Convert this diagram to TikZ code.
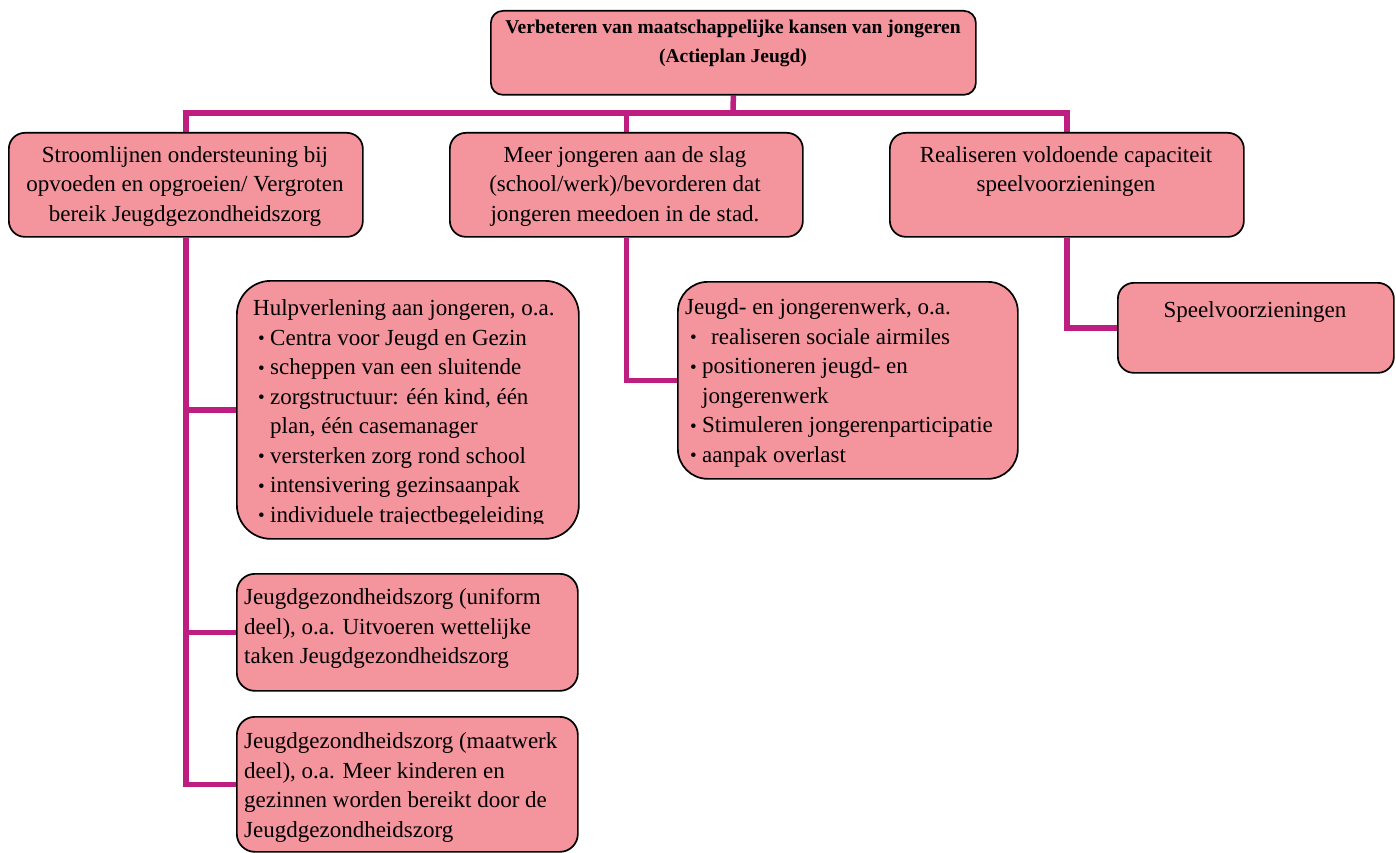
\documentclass[tikz,border=0pt]{standalone}
\usepackage{fontspec}
\setmainfont{Liberation Serif}
\definecolor{boxfill}{RGB}{244,148,157}
\definecolor{conncol}{RGB}{190,30,127}
\pgfdeclarelayer{bg}
\pgfsetlayers{bg,main}
\newcommand{\bul}{\makebox[12pt][l]{\raisebox{0.5pt}{\fontsize{19}{19}\selectfont\textbullet}}}
\begin{document}
\begin{tikzpicture}[x=1pt,y=-1pt,
  box/.style={draw=black, line width=1.7pt, fill=boxfill, rounded corners=#1, inner sep=0pt, anchor=north west},
  box/.default=15pt,
  txt/.style={inner sep=0pt, font=\fontsize{23}{29.5}\selectfont, align=left},
  ctxt/.style={inner sep=0pt, font=\fontsize{23}{29.5}\selectfont, align=center},
  ttxt/.style={inner sep=0pt, font=\fontsize{19.5}{29}\selectfont\bfseries, align=center},
  conn/.style={draw=conncol, line width=5.5pt}]
\useasboundingbox (0,0) rectangle (1396,853);

% boxes
\node[box=12pt, minimum width=485pt, minimum height=84pt] (T) at (490,10) {};
\node[box=16pt, minimum width=354pt, minimum height=104pt] (A) at (8,132) {};
\node[box=16pt, minimum width=353pt, minimum height=104pt] (B) at (449,132) {};
\node[box=16pt, minimum width=354pt, minimum height=104pt] (C) at (889,132) {};
\node[box=34pt, minimum width=342pt, minimum height=258pt] (H) at (236,280) {};
\node[box=30pt, minimum width=340pt, minimum height=197pt] (J) at (677,281) {};
\node[box=16pt, minimum width=276pt, minimum height=90pt] (S) at (1117,282) {};
\node[box=18pt, minimum width=341pt, minimum height=117pt] (U) at (236,573) {};
\node[box=18pt, minimum width=341pt, minimum height=135pt] (M) at (236,716) {};

% connectors
\coordinate (bar) at (733,113);
\begin{pgfonlayer}{bg}
\draw[conn] (T.south) -- (bar);
\draw[conn] (A.north) |- (bar) -| (C.north);
\draw[conn] (B.north) -- (B.north |- bar);
\draw[conn] (A.south) |- (M.west);
\draw[conn] (A.south |- H.west) -- (H.west);
\draw[conn] (A.south |- U.west) -- (U.west);
\draw[conn] (B.south) |- (J.west);
\draw[conn] (C.south) |- (S.west);
\end{pgfonlayer}

% texts
\node[ttxt, anchor=north] (Tt) at (733,20) {Verbeteren van maatschappelijke kansen van jongeren\\(Actieplan Jeugd)};
\node[ctxt, anchor=north] (At) at (185,146) {Stroomlijnen ondersteuning bij\\opvoeden en opgroeien/ Vergroten\\bereik Jeugdgezondheidszorg};
\node[ctxt, anchor=north] (Bt) at (625,146) {Meer jongeren aan de slag\\(school/werk)/bevorderen dat\\jongeren meedoen in de stad.};
\node[ctxt, anchor=north] (Ct) at (1066,146) {Realiseren voldoende capaciteit\\speelvoorzieningen};
\begin{scope}
\clip (236,280) rectangle (578,523);
\node[txt, anchor=north west] (Ht) at (253,299.5) {Hulpverlening aan jongeren, o.a.\\
\hspace*{5pt}\bul Centra voor Jeugd en Gezin\\
\hspace*{5pt}\bul scheppen van een sluitende\\
\hspace*{5pt}\bul zorgstructuur: één kind, één\\
\hspace*{17pt}plan, één casemanager\\
\hspace*{5pt}\bul versterken zorg rond school\\
\hspace*{5pt}\bul intensivering gezinsaanpak\\
\hspace*{5pt}\bul individuele trajectbegeleiding};
\end{scope}
\node[txt, anchor=north west] (Jt) at (685,298.5) {Jeugd- en jongerenwerk, o.a.\\
\hspace*{5pt}\bul\hspace*{9pt}realiseren sociale airmiles\\
\hspace*{5pt}\bul positioneren jeugd- en\\
\hspace*{17pt}jongerenwerk\\
\hspace*{5pt}\bul Stimuleren jongerenparticipatie\\
\hspace*{5pt}\bul aanpak overlast};
\node[ctxt, anchor=north] (St) at (1255,301.5) {Speelvoorzieningen};
\node[txt, anchor=north west] (Ut) at (244,588.5) {Jeugdgezondheidszorg (uniform\\deel), o.a. Uitvoeren wettelijke\\taken Jeugdgezondheidszorg};
\node[txt, anchor=north west] (Mt) at (244,732.5) {Jeugdgezondheidszorg (maatwerk\\deel), o.a. Meer kinderen en\\gezinnen worden bereikt door de\\Jeugdgezondheidszorg};
\end{tikzpicture}
\end{document}
